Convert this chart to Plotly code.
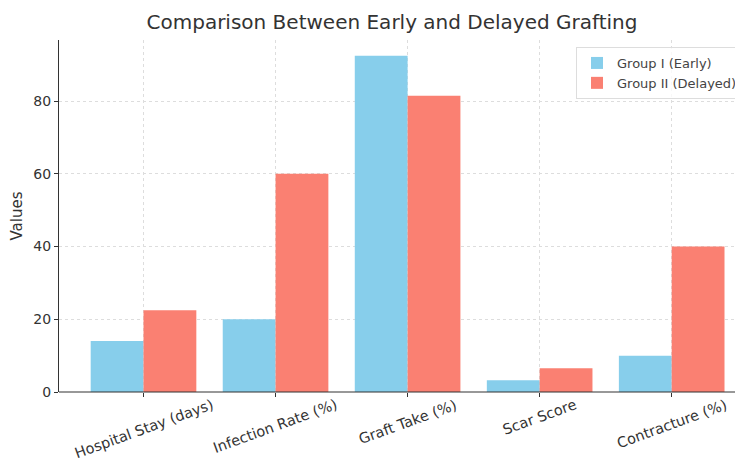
import plotly.graph_objects as go

categories = ["Hospital Stay (days)", "Infection Rate (%)", "Graft Take (%)", "Scar Score", "Contracture (%)"]
group1 = [14, 20, 92.5, 3.2, 10]
group2 = [22.5, 60, 81.5, 6.5, 40]
y_ticks = [0, 20, 40, 60, 80]

x_idx = list(range(len(categories)))

fig = go.Figure()
fig.add_trace(go.Bar(x=x_idx, y=group1, name="Group I (Early)", marker_color="#87CEEB",
                     marker_line_width=0))
fig.add_trace(go.Bar(x=x_idx, y=group2, name="Group II (Delayed)", marker_color="#FA8072",
                     marker_line_width=0))

# page body has an 8px margin, so the figure is sized/offset to compensate
W, H = 735, 456
font = "DejaVu Sans, sans-serif"
fig.update_layout(
    width=W, height=H,
    margin=dict(l=51, r=0, t=32, b=72),
    paper_bgcolor="white", plot_bgcolor="white",
    barmode="group", bargap=0.2, bargroupgap=0,
    font=dict(family=font, size=14, color="#333333"),
    title=dict(text="Comparison Between Early and Delayed Grafting", x=384/W, xanchor="center",
               y=1 - 14/H, yanchor="middle", font=dict(size=20, color="#333333")),
    legend=dict(x=(576-59)/684, xanchor="left", y=1 - 7/352, yanchor="top",
                xref="paper", yref="paper",
                bgcolor="rgba(255,255,255,0.8)", bordercolor="#dddddd", borderwidth=1,
                font=dict(size=13, color="#444444"), itemwidth=30,
                tracegroupgap=0),
    xaxis=dict(tickmode="array", tickvals=x_idx, showticklabels=False, automargin=False,
               range=[-0.64, 4.54], showline=False, zeroline=False,
               showgrid=True, gridcolor="#dddddd", griddash="dot", gridwidth=1,
               ticks="outside", ticklen=4, tickcolor="#333333"),
    yaxis=dict(tickmode="array", tickvals=y_ticks, range=[0, 96.8], automargin=False,
               showline=True, linecolor="#333333", linewidth=1.2, zeroline=False,
               showgrid=True, gridcolor="#dddddd", griddash="dot", gridwidth=1,
               ticks="outside", ticklen=4, tickcolor="#333333",
               title=dict(text="Values", font=dict(size=15), standoff=8),
               tickfont=dict(size=14, color="#333333")),
)
fig.add_shape(type="line", xref="paper", yref="paper", x0=0, x1=1, y0=0, y1=0,
              line=dict(color="#333333", width=1.2))
for i, c in zip(x_idx, categories):
    fig.add_annotation(x=i, y=0, xref="x", yref="paper", text=c, showarrow=False,
                       textangle=-20, xanchor="center", yanchor="top", yshift=-2,
                       font=dict(size=14.5, color="#333333"))

fig.write_html("out.html")
